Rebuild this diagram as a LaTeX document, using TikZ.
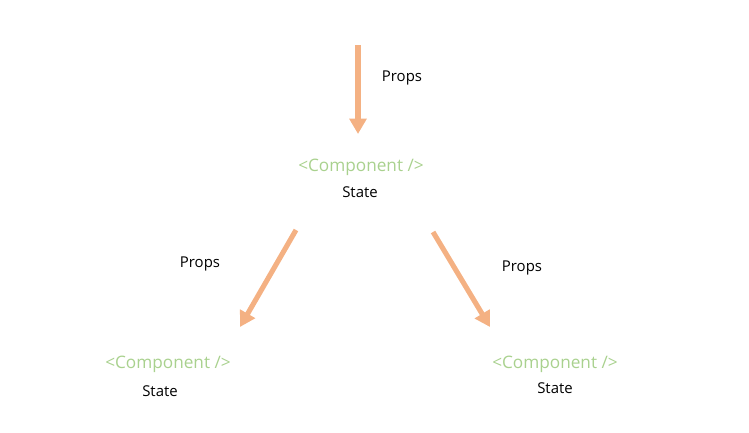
\documentclass[tikz,border=0pt]{standalone}
\usepackage{fontspec}
\setmainfont{Open Sans}
\usetikzlibrary{arrows.meta}
\definecolor{arrowc}{HTML}{F4B183}
\definecolor{compc}{HTML}{A9D18E}
\begin{document}
\begin{tikzpicture}[x=0.75pt,y=-0.75pt,
  comp/.style={text=compc,font=\fontsize{12.9pt}{14pt}\selectfont,inner sep=0pt},
  lbl/.style={text=black,font=\fontsize{11.2pt}{13pt}\selectfont,inner sep=0pt},
  flow/.style={draw=arrowc,line width=3.8pt,-{Triangle[width=12.5pt,length=11.5pt]}}]
\useasboundingbox (0,0) rectangle (749,432);
\node[comp] (c1) at (361,167) {<Component />};
\node[lbl] (s1) at (360,192) {State};
\node[comp] (c2) at (168,364) {<Component />};
\node[lbl] (s2) at (160,391) {State};
\node[comp] (c3) at (555,364) {<Component />};
\node[lbl] (s3) at (555,388) {State};
\node[lbl] (p1) at (402,78) {Props};
\node[lbl] (p2) at (200,264) {Props};
\node[lbl] (p3) at (522,268) {Props};
\coordinate (a1s) at (358,45);
\coordinate (a1e) at (358,134);
\coordinate (a2s) at (296,230);
\coordinate (a2e) at (240,327);
\coordinate (a3s) at (433,232);
\coordinate (a3e) at (490,327);
\draw[flow] (a1s) -- (a1e);
\draw[flow] (a2s) -- (a2e);
\draw[flow] (a3s) -- (a3e);
\end{tikzpicture}
\end{document}
